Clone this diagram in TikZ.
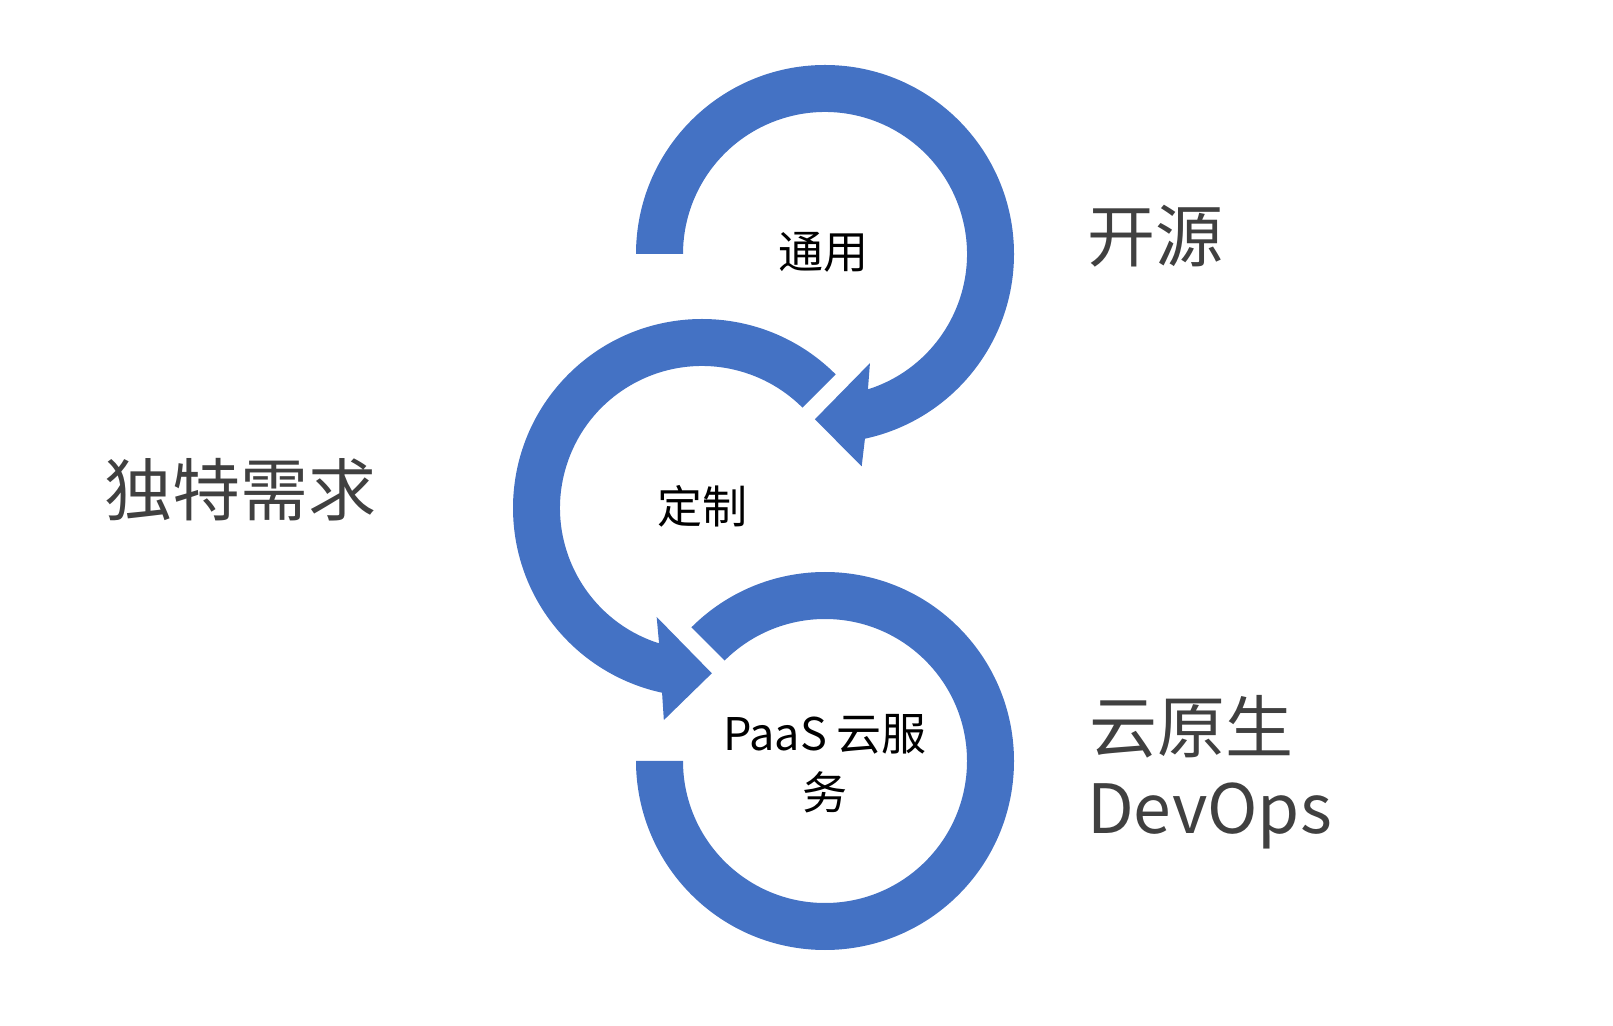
\documentclass[tikz,border=0pt]{standalone}
\usepackage{fontspec}
\setmainfont{Noto Sans CJK SC}
\usetikzlibrary{calc}
\definecolor{arrowblue}{HTML}{4472C4}
\definecolor{sidegray}{HTML}{404040}
\tikzset{
  ringarrow/.style={fill=arrowblue, draw=none},
  innerlabel/.style={inner sep=0pt, anchor=base, text=black, font=\fontsize{45bp}{54bp}\selectfont},
  sidelabel/.style={inner sep=0pt, text=sidegray, font=\fontsize{68bp}{80bp}\selectfont}
}
\begin{document}
\begin{tikzpicture}[x=1bp,y=1bp]
\useasboundingbox (0,0) rectangle (1613,1025);
\coordinate (c1) at (825,771);
\coordinate (c2) at (702,517);
\coordinate (c3) at (825,264);
% top ring arrow
\fill[ringarrow] ($(c1)+(180:189)$) arc[start angle=180, end angle=-77.8, radius=189]
  -- ($(c1)+(-80.2:215.5)$) -- ($(c1)+(-93.5:165.6)$) -- ($(c1)+(-67.6:118)$)
  -- ($(c1)+(-72.4:142)$) arc[start angle=-72.4, end angle=180, radius=142] -- cycle;
% middle ring arrow
\fill[ringarrow] ($(c2)+(45:189)$) arc[start angle=45, end angle=257.8, radius=189]
  -- ($(c2)+(259.8:215.5)$) -- ($(c2)+(273.4:165.6)$) -- ($(c2)+(247.4:118)$)
  -- ($(c2)+(252.4:142)$) arc[start angle=252.4, end angle=45, radius=142] -- cycle;
% bottom ring
\fill[ringarrow] ($(c3)+(135:189)$) arc[start angle=135, end angle=-180, radius=189]
  -- ($(c3)+(-180:142)$) arc[start angle=-180, end angle=135, radius=142] -- cycle;
% inner labels
\node[innerlabel] (tongyong) at (823,756) {通用};
\node[innerlabel] (dingzhi) at (702,501) {定制};
\node[innerlabel] (paas1) at (825,274) {PaaS 云服};
\node[innerlabel] (paas2) at (825,215.5) {务};
% side labels
\node[sidelabel, anchor=base west] (kaiyuan) at (1087,763) {开源};
\node[sidelabel, anchor=base] (duote) at (240,509) {独特需求};
\node[sidelabel, anchor=base west] (yunyuan) at (1089,272.5) {云原生};
\node[sidelabel, anchor=base west] (devops) at (1087,192) {DevOps};
\end{tikzpicture}
\end{document}
